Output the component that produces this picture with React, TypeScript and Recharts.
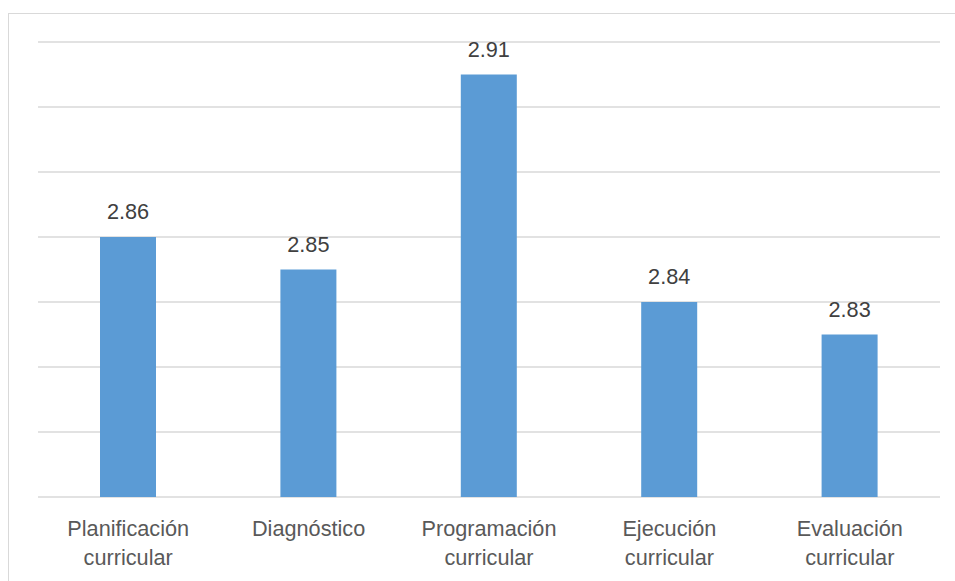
import React from "react";
import { BarChart, Bar, XAxis, YAxis, CartesianGrid, LabelList } from "recharts";

const categories = [
  ["Planificación", "curricular"],
  ["Diagnóstico"],
  ["Programación", "curricular"],
  ["Ejecución", "curricular"],
  ["Evaluación", "curricular"],
];
const values = [2.86, 2.85, 2.91, 2.84, 2.83];
const yTicks = [2.78, 2.8, 2.82, 2.84, 2.86, 2.88, 2.9, 2.92];

const data = categories.map((c, i) => ({ name: c.join(" "), lines: c, value: values[i] }));

const FONT = "'Liberation Sans', Arial, sans-serif";

const CatTick = (props: any) => {
  const { x, y, payload } = props;
  const lines = categories[payload.index] || [payload.value];
  return (
    <text x={x} y={y} textAnchor="middle" fill="#595959" fontSize={21.7} fontFamily={FONT}>
      {lines.map((l: string, i: number) => (
        <tspan key={i} x={x} dy={i === 0 ? 39 : 29}>
          {l}
        </tspan>
      ))}
    </text>
  );
};

export default function App() {
  return (
    <div
      style={{
        position: "absolute",
        left: 8,
        top: 13,
        width: 960,
        height: 580,
        border: "1px solid #d9d9d9",
        background: "#fff",
      }}
    >
      <BarChart
        width={946}
        height={567}
        data={data}
        margin={{ top: 28, right: 15, left: 29, bottom: 0 }}
      >
        <CartesianGrid vertical={false} stroke="#d9d9d9" strokeWidth={1.5} />
        <YAxis hide domain={[2.78, 2.92]} ticks={yTicks} type="number" allowDataOverflow />
        <XAxis
          dataKey="name"
          axisLine={false}
          tickLine={false}
          tickSize={0}
          tickMargin={0}
          height={84}
          interval={0}
          tick={<CatTick />}
        />
        <Bar dataKey="value" fill="#5b9bd5" barSize={56} isAnimationActive={false}>
          <LabelList
            dataKey="value"
            position="top"
            offset={18}
            fill="#404040"
            fontSize={21.7}
            fontFamily={FONT}
            formatter={(v: any) => Number(v).toFixed(2)}
          />
        </Bar>
      </BarChart>
    </div>
  );
}
